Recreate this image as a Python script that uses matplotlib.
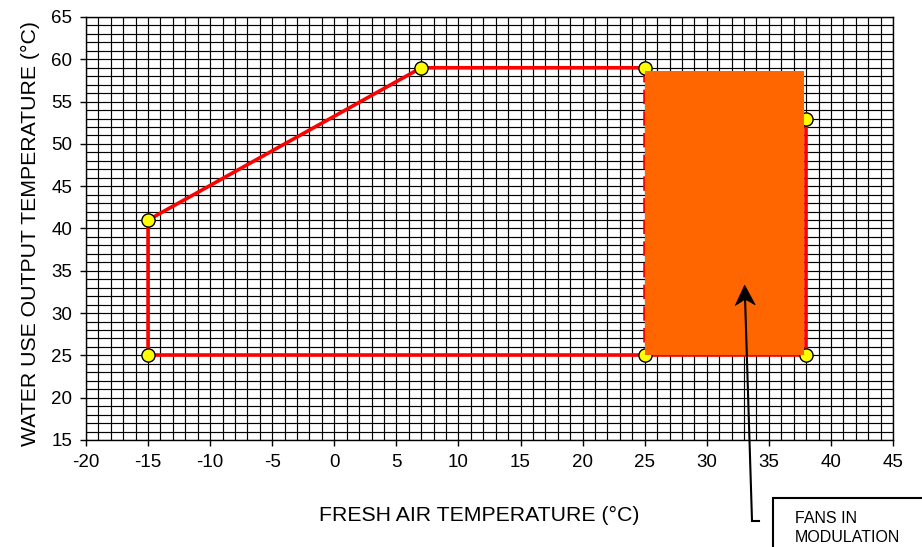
import matplotlib
matplotlib.use("Agg")
import matplotlib.pyplot as plt
from matplotlib.patches import Rectangle, Polygon
from matplotlib.lines import Line2D
import numpy as np

plt.rcParams['font.family'] = ['Liberation Sans', 'DejaVu Sans']
plt.rcParams['axes.unicode_minus'] = False

# Operating envelope corners (fresh air temp, water output temp)
env_x = [-15, -15, 7, 25]
env_y = [25, 41, 59, 59]
mod_edge_x = [25, 25]
mod_edge_y = [59, 25]
base_x = [-15, 38]
base_y = [25, 25]
right_x = [38, 38]
right_y = [25, 53]
point_x = [-15, -15, 7, 25, 25, 38, 38]
point_y = [25, 41, 59, 59, 25, 25, 53]

# Fan-modulation zone
zone_x = [25.06, 37.87]
zone_y = [25.0, 58.65]
arrow_tip = (33.05, 33.3)

x_ticks = list(range(-20, 46, 5))
y_ticks = list(range(15, 66, 5))

W, H = 922, 547
fig = plt.figure(figsize=(W / 100, H / 100), dpi=100)
ax = fig.add_axes([86 / W, 107 / H, 807 / W, 423 / H])
ax.set_xlim(-20, 45)
ax.set_ylim(15, 65)

ax.set_xticks(x_ticks)
ax.set_yticks(y_ticks)
ax.set_xticks(np.arange(-20, 46, 1), minor=True)
ax.set_yticks(np.arange(15, 66, 1), minor=True)
ax.grid(which='both', color='black', linewidth=0.85, zorder=0)
ax.tick_params(which='major', direction='out', length=4.5, width=1, pad=5.5,
               labelsize=13.5, color='black')
ax.tick_params(which='minor', length=0)
for s in ax.spines.values():
    s.set_linewidth(1)
    s.set_color('black')

red = '#ff0000'
ax.plot(env_x, env_y, color=red, lw=2.6, zorder=3)
ax.plot(base_x, base_y, color=red, lw=2.6, zorder=3)
ax.plot(right_x, right_y, color=red, lw=2.6, zorder=3)
ax.plot(mod_edge_x, mod_edge_y, color=red, lw=2.6, ls=(0, (4, 2)), zorder=3)
ax.plot(point_x, point_y, ls='none', marker='o', markersize=9.5,
        markerfacecolor='#ffff00', markeredgecolor='black', markeredgewidth=1.0, zorder=4)

ax.add_patch(Rectangle((zone_x[0], zone_y[0]), zone_x[1] - zone_x[0], zone_y[1] - zone_y[0],
                       facecolor='#ff6600', edgecolor='none', zorder=5))

ax.set_xlabel('FRESH AIR TEMPERATURE (°C)', fontsize=15.3)
ax.set_ylabel('WATER USE OUTPUT TEMPERATURE (°C)', fontsize=15.3)
ax.xaxis.set_label_coords((479.5 - 86) / 807, (440 - 515) / 423)
ax.xaxis.label.set_va('center')
ax.yaxis.set_label_coords((30 - 86) / 807, (440 - 233.5) / 423)
ax.yaxis.label.set_va('center')

# Callout: elbow leader ending in a notched arrowhead on the modulation zone
tip = ax.transData.transform(arrow_tip)
start = np.array([752.0, 26.5])
d = tip - start
d = d / np.hypot(*d)
n = np.array([-d[1], d[0]])
head_len, notch, half_w = 20.0, 14.0, 10.0
head = [tip, tip - head_len * d + half_w * n, tip - notch * d, tip - head_len * d - half_w * n]
fig.add_artist(Polygon(head, closed=True, transform=None, facecolor='black',
                       edgecolor='black', lw=0.5, zorder=7))
neck = tip - notch * d
fig.add_artist(Line2D([start[0], neck[0]], [start[1], neck[1]], transform=None,
                      color='black', lw=1.5, zorder=6))
fig.add_artist(Line2D([752, 759], [26.5, 26.5], transform=None, color='black', lw=1.5))

fig.add_artist(Rectangle((773 / W, -0.1), 0.3, 0.1 + 49.5 / H, transform=fig.transFigure,
                         facecolor='white', edgecolor='black', lw=1.5))
fig.text(795 / W, 1 - 511 / H, 'FANS IN\nMODULATION', fontsize=11.5,
         va='top', ha='left', linespacing=1.3)

fig.savefig('out.png', dpi=100)
